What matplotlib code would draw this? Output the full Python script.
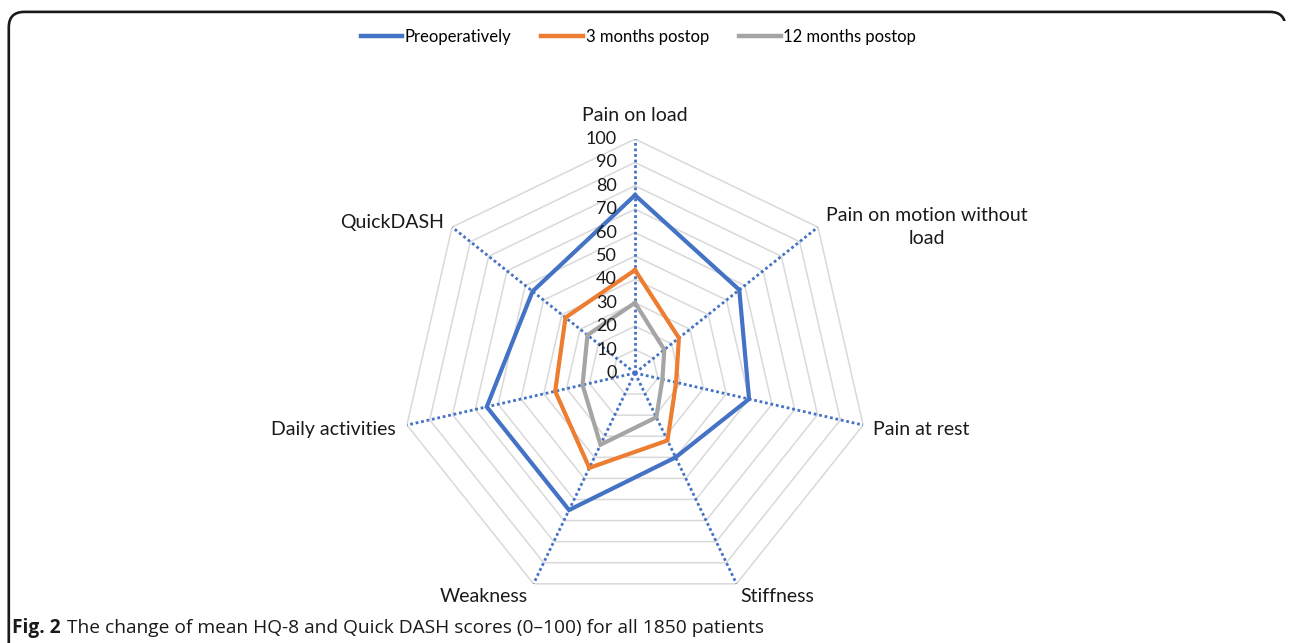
import numpy as np
import matplotlib.pyplot as plt
from matplotlib.lines import Line2D
from matplotlib.patches import FancyBboxPatch

categories = ['Pain on load', 'Pain on motion without\nload', 'Pain at rest', 'Stiffness',
              'Weakness', 'Daily activities', 'QuickDASH']
preop = [76, 57, 50, 40, 65, 65, 56]
postop_3m = [44, 24, 18, 32, 45, 35, 38]
postop_12m = [30, 16, 12, 21, 34, 23, 26]
series_names = ['Preoperatively', '3 months postop', '12 months postop']
colors = ['#4472c4', '#ed7d31', '#a5a5a5']
ticks = list(range(0, 101, 10))

plt.rcParams['font.family'] = ['Lato', 'DejaVu Sans']

fig = plt.figure(figsize=(12.92, 6.43), dpi=100)
ax = fig.add_axes([0.3104, 0.056, 0.3622, 0.7278], projection='polar')
ax.set_theta_zero_location('N')
ax.set_theta_direction(-1)
ax.set_ylim(0, 100)
ax.grid(False)
ax.spines['polar'].set_visible(False)
ax.set_xticks([])
ax.set_yticks([])
ax.patch.set_alpha(0)

n = len(categories)
angles = np.linspace(0, 2 * np.pi, n, endpoint=False)
closed = np.append(angles, angles[0])

# heptagon gridlines
for t in ticks[1:]:
    ax.plot(closed, [t] * (n + 1), color='#d9d9d9', lw=1.1, zorder=1)
# dotted axis spokes
for a in angles:
    ax.plot([a, a], [0, 100], color='#4472c4', lw=2, ls=(0, (1, 1)), zorder=2)

for vals, c, name in zip([preop, postop_3m, postop_12m], colors, series_names):
    ax.plot(closed, vals + vals[:1], color=c, lw=3, label=name, zorder=3,
            solid_joinstyle='miter')

for t in ticks:
    ax.annotate(str(t), xy=(0, t), xytext=(-13, 0), textcoords='offset points',
                ha='right', va='center', fontsize=13, color='#1a1a1a')

# category labels: (index, dx, dy, ha, va)
label_cfg = [
    (0, 0, 11, 'center', 'bottom'),
    (1, 6, 0, 'left', 'center'),
    (2, 7, -3, 'left', 'center'),
    (3, 3, -3, 'left', 'top'),
    (4, -4, -3, 'right', 'top'),
    (5, -8, -3, 'right', 'center'),
    (6, -6, 3, 'right', 'center'),
]
for i, dx, dy, ha, va in label_cfg:
    ax.annotate(categories[i], xy=(angles[i], 100), xytext=(dx, dy),
                textcoords='offset points', ha=ha, va=va, fontsize=14,
                color='#1a1a1a', multialignment='center', linespacing=1.45,
                annotation_clip=False)

handles = [Line2D([0], [0], color=c, lw=3.2) for c in colors]
fig.legend(handles, series_names, loc='center', bbox_to_anchor=(0.494, 0.943),
           ncol=3, frameon=False, fontsize=12, handlelength=2.5,
           handletextpad=0.15, columnspacing=1.8)

# outer frame (top + left edge with rounded corners)
frame = FancyBboxPatch((0.0068, -0.2), 0.988, 1.1815, boxstyle='round,pad=0,rounding_size=0.012',
                       transform=fig.transFigure, fill=False, ec='#1a1a1a', lw=1.9,
                       mutation_aspect=2.0)
fig.patches.append(frame)
fig.patches.append(plt.Rectangle((0.98, -0.1), 0.05, 1.068, transform=fig.transFigure,
                                 fc='white', ec='none', zorder=5))

fig.text(0.0093, 0.0155, 'Fig. 2', fontsize=13.8, fontweight='bold', family='Open Sans',
         color='#1a1a1a', va='baseline')
fig.text(0.0515, 0.0155, 'The change of mean HQ-8 and Quick DASH scores (0\u2013100) for all 1850 patients',
         fontsize=13.8, family='Open Sans', color='#1a1a1a', va='baseline')

fig.savefig('out.png', dpi=100)
